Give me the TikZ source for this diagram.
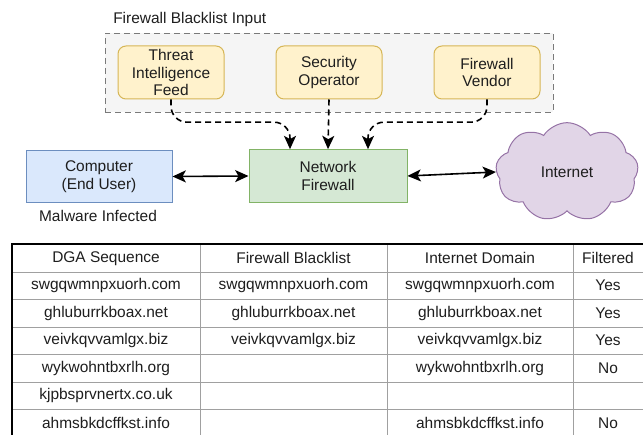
\documentclass[tikz,border=0pt]{standalone}
\usepackage{fontspec}
\setmainfont{Liberation Sans}
\usetikzlibrary{arrows.meta,calc,shapes.symbols}

\definecolor{srcfill}{HTML}{FFF2CC}
\definecolor{srcline}{HTML}{D6B656}
\definecolor{pcfill}{HTML}{DAE8FC}
\definecolor{pcline}{HTML}{6C8EBF}
\definecolor{fwfill}{HTML}{D5E8D4}
\definecolor{fwline}{HTML}{82B366}
\definecolor{netfill}{HTML}{E1D5E7}
\definecolor{netline}{HTML}{9673A6}
\definecolor{grpfill}{HTML}{F5F5F5}
\definecolor{grpline}{HTML}{7A7A7A}
\definecolor{txt}{HTML}{1E1E1E}
\definecolor{rule}{HTML}{A0A0A0}

\tikzset{
  src/.style={draw=srcline, fill=srcfill, rounded corners=6pt, line width=0.75pt,
    minimum width=79.5pt, minimum height=39.75pt, align=center, inner sep=0pt},
  plainbox/.style={line width=0.75pt, minimum height=39.5pt, align=center, inner sep=0pt},
  group/.style={draw=grpline, fill=grpfill, line width=0.6pt, dash pattern=on 4.5pt off 3pt,
    minimum width=336pt, minimum height=59.25pt},
  tip/.style={-{Stealth[length=10pt,width=9pt,inset=2.5pt]}},
  link/.style={line width=1.2pt, {Stealth[length=10pt,width=9pt,inset=2.5pt]}-{Stealth[length=10pt,width=9pt,inset=2.5pt]}},
  feed/.style={tip, line width=1.2pt, dash pattern=on 4.5pt off 3pt, rounded corners=12pt},
  grid/.style={draw=rule, line width=0.6pt},
  frame/.style={draw=black, line width=1.6pt},
  cell/.style={inner sep=0pt}
}

\begin{document}
\begin{tikzpicture}[x=0.75pt, y=0.75pt, font=\fontsize{11.6}{13.1}\selectfont, text=txt]
	\useasboundingbox (0,0) rectangle (643,-435);

	% blacklist sources
	\node[group] (input) at (329,-72.5) {};
	\node[anchor=west, inner sep=0pt] (inputlbl) at (113,-20) {Firewall Blacklist Input};
	\node[src] (threat) at (171,-72.5) {Threat\\Intelligence\\Feed};
	\node[src] (secop) at (329,-72.5) {Security\\Operator};
	\node[src] (vendor) at (487,-72.5) {Firewall\\Vendor};

	% network path
	\node[plainbox, draw=pcline, fill=pcfill, minimum width=109.5pt] (pc) at (99,-176.5) {Computer\\(End User)};
	\node[anchor=center, inner sep=0pt] (pclbl) at (98,-216) {Malware Infected};
	\node[plainbox, draw=fwline, fill=fwfill, minimum width=118.5pt] (fw) at (328,-176) {Network\\Firewall};
	\node[cloud, cloud puffs=9, cloud puff arc=115, aspect=1.5, draw=netline, fill=netfill,
		line width=0.75pt, minimum width=107pt, minimum height=74pt, inner sep=0pt] (web) at (567,-172) {Internet};

	\draw[link] (pc.east) -- (fw.west);
	\draw[link] (fw.east) -- (web.west);
	\draw[feed] (threat.south) |- ($(fw.north)+(-38,27)$) -- ($(fw.north)+(-38,0)$);
	\draw[feed] (secop.south) -- (fw.north);
	\draw[feed] (vendor.south) |- ($(fw.north)+(40,27)$) -- ($(fw.north)+(40,0)$);

	% table
	\foreach \y in {272,299.5,327,354.5,382,409.5}
		\draw[grid] (12,-\y) -- (643,-\y);
	\foreach \x in {200,387,573}
		\draw[grid] (\x,-244) -- (\x,-435);
	\draw[frame] (12,-435) -- (12,-244) -- (643,-244);

	\foreach \ca/\cb/\cc/\cd [count=\r from 0] in {
		DGA Sequence/Firewall Blacklist/Internet Domain/Filtered,
		swgqwmnpxuorh.com/swgqwmnpxuorh.com/swgqwmnpxuorh.com/Yes,
		ghluburrkboax.net/ghluburrkboax.net/ghluburrkboax.net/Yes,
		veivkqvvamlgx.biz/veivkqvvamlgx.biz/veivkqvvamlgx.biz/Yes,
		wykwohntbxrlh.org/{}/wykwohntbxrlh.org/No,
		kjpbsprvnertx.co.uk/{}/{}/{},
		ahmsbkdcffkst.info/{}/ahmsbkdcffkst.info/No}
	{
		\node[cell] (dga\r) at (106,{-258.25-27.5*\r}) {\ca};
		\node[cell] (blk\r) at (293.5,{-258.25-27.5*\r}) {\cb};
		\node[cell] (dom\r) at (480,{-258.25-27.5*\r}) {\cc};
		\node[cell] (flt\r) at (608,{-258.25-27.5*\r}) {\cd};
	}
\end{tikzpicture}
\end{document}
